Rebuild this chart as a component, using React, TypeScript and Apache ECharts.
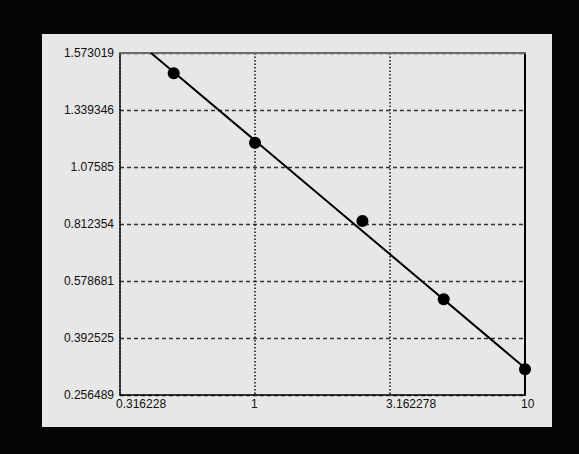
import React, { useEffect, useRef } from "react";
import * as echarts from "echarts";

// Tick labels
const X_TICK_LABELS = ["0.316228", "1", "3.162278", "10"];
const Y_TICKS = [0.256489, 0.392525, 0.578681, 0.812354, 1.07585, 1.339346, 1.573019];
const Y_TICK_LABELS = ["0.256489", "0.392525", "0.578681", "0.812354", "1.07585", "1.339346", "1.573019"];

// Observations
const X_VALUES = [0.5, 1, 2.5, 5, 10];
const Y_VALUES = [1.49, 1.188, 0.826, 0.519, 0.318];

// Fitted line end points
const FIT_X = [0.412, 10];
const FIT_Y = [1.573019, 0.3209];

// y axis scale: ticks are evenly spaced, values between them interpolated
function toT(y: number): number {
  for (let i = 0; i < Y_TICKS.length - 1; i++) {
    const a = Y_TICKS[i];
    const b = Y_TICKS[i + 1];
    if (y <= b || i === Y_TICKS.length - 2) {
      return i + (y - a) / (b - a);
    }
  }
  return 0;
}
const toX = (x: number) => Math.log10(x);

const FONT = "'Liberation Sans', Arial, sans-serif";

export default function App() {
  const ref = useRef<HTMLDivElement>(null);
  useEffect(() => {
    if (!ref.current) return;
    const chart = echarts.init(ref.current, undefined, { renderer: "svg" });
    const points = X_VALUES.map((x, i) => [toX(x), toT(Y_VALUES[i])]);
    const line = FIT_X.map((x, i) => [toX(x), toT(FIT_Y[i])]);
    chart.setOption({
      animation: false,
      backgroundColor: "#050505",
      graphic: [
        {
          type: "rect",
          z: -10,
          shape: { x: 42, y: 34, width: 510, height: 393 },
          style: { fill: "#e6e7e6" },
          silent: true,
        },
      ],
      grid: { left: 120, top: 53, right: 54, bottom: 59, containLabel: false },
      xAxis: [
        {
          type: "value",
          min: -0.5,
          max: 1,
          interval: 0.5,
          axisLine: { show: true, onZero: false, lineStyle: { color: "#000", width: 1.5 } },
          axisTick: { show: false },
          axisLabel: {
            color: "#111",
            fontSize: 12,
            fontFamily: FONT,
            align: "left",
            margin: 3,
            padding: [0, 0, 0, -4],
            formatter: (v: number) => X_TICK_LABELS[Math.round((v + 0.5) / 0.5)] ?? "",
          },
          splitLine: {
            show: true,
            lineStyle: { color: "#111", width: 1.5, type: [1.5, 2] },
          },
        },
        {
          type: "value",
          position: "top",
          min: -0.5,
          max: 1,
          interval: 0.5,
          axisLine: { show: true, onZero: false, lineStyle: { color: "#6a6a6a", width: 2 } },
          axisTick: { show: false },
          axisLabel: { show: false },
          splitLine: { show: false },
        },
      ],
      yAxis: [
        {
          type: "value",
          min: 0,
          max: 6,
          interval: 1,
          axisLine: { show: true, onZero: false, lineStyle: { color: "#111", width: 1.5 } },
          axisTick: { show: false },
          axisLabel: {
            color: "#111",
            fontSize: 12,
            fontFamily: FONT,
            margin: 6,
            formatter: (v: number) => Y_TICK_LABELS[Math.round(v)] ?? "",
          },
          splitLine: {
            show: true,
            lineStyle: { color: "#333", width: 1.4, type: [4, 3] },
          },
        },
        {
          type: "value",
          position: "right",
          min: 0,
          max: 6,
          interval: 1,
          axisLine: { show: true, onZero: false, lineStyle: { color: "#000", width: 2 } },
          axisTick: { show: false },
          axisLabel: { show: false },
          splitLine: { show: false },
        },
      ],
      series: [
        {
          type: "line",
          data: line,
          showSymbol: false,
          symbol: "none",
          lineStyle: { color: "#000", width: 2 },
          silent: true,
        },
        {
          type: "scatter",
          data: points,
          symbol: "circle",
          symbolSize: 12,
          itemStyle: { color: "#000", opacity: 1 },
        },
      ],
    });
    return () => chart.dispose();
  }, []);
  return (
    <div
      ref={ref}
      style={{ position: "fixed", left: 0, top: 0, width: 579, height: 454 }}
    />
  );
}
